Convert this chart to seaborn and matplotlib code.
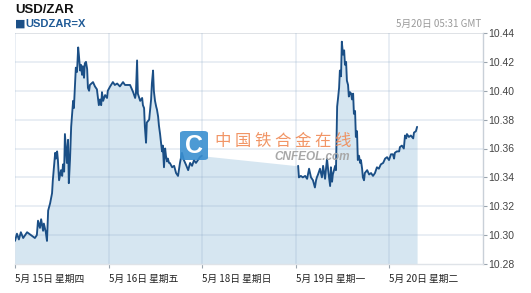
import numpy as np
import pandas as pd
import matplotlib
matplotlib.use("Agg")
import matplotlib.pyplot as plt
from matplotlib.patches import FancyBboxPatch
import seaborn as sns

# ---- data (hours since 5/15 00:00 on a compressed 5-trading-day axis) ----
day_labels = ["5月 15日 星期四", "5月 16日 星期五", "5月 18日 星期日", "5月 19日 星期一", "5月 20日 星期二"]
day_ticks = [0, 24, 48, 72, 96]
y_ticks = [10.28, 10.30, 10.32, 10.34, 10.36, 10.38, 10.40, 10.42, 10.44]

seg1_hours = [0.0, 0.5, 1.0, 1.5, 2.1, 2.6, 3.1, 3.6, 4.1, 4.6, 5.1, 5.6, 5.9, 6.4, 6.7, 7.2, 7.4, 7.9, 8.2, 8.5,
              9.0, 9.5, 9.7, 10.3, 10.5, 10.8, 11.0, 11.3, 11.8, 12.1, 12.3, 12.6, 12.8, 13.3, 13.6, 13.8, 14.1,
              14.4, 14.9, 15.1, 15.4, 15.6, 15.9, 16.2, 16.4, 16.7, 16.9, 17.2, 17.4, 17.7, 17.9, 18.2, 18.5,
              18.7, 19.0, 19.2, 20.0, 20.5, 21.0, 21.5, 21.8, 22.1, 22.3, 22.6, 23.1, 23.6, 23.8, 24.4, 25.1,
              25.6, 26.2, 26.9, 27.7, 28.2, 29.0, 29.5, 30.3, 30.8, 31.0, 31.3, 31.5, 32.1, 32.6, 32.8, 33.1,
              33.3, 33.6, 33.8, 34.1, 34.4, 34.9, 35.1, 35.4, 35.6, 35.9, 36.2, 36.4, 36.7, 36.9, 37.2, 37.4,
              37.7, 37.9, 38.2, 38.5, 38.7, 39.0, 39.2, 39.5, 39.7, 40.3, 40.8, 41.3, 41.8, 42.3, 42.8, 43.3,
              43.8, 44.4, 44.9, 45.4, 45.9, 46.4, 46.9, 47.4, 47.9]
seg1_rate = [10.296, 10.301, 10.297, 10.302, 10.298, 10.300, 10.302, 10.301, 10.300, 10.299, 10.298, 10.300,
             10.310, 10.305, 10.311, 10.303, 10.308, 10.302, 10.296, 10.317, 10.322, 10.329, 10.338, 10.357,
             10.353, 10.358, 10.352, 10.338, 10.345, 10.341, 10.349, 10.344, 10.370, 10.350, 10.366, 10.336,
             10.352, 10.375, 10.393, 10.388, 10.405, 10.416, 10.413, 10.430, 10.424, 10.414, 10.418, 10.411,
             10.417, 10.409, 10.419, 10.420, 10.415, 10.402, 10.400, 10.404, 10.406, 10.403, 10.401, 10.390,
             10.394, 10.390, 10.399, 10.393, 10.397, 10.395, 10.400, 10.403, 10.406, 10.404, 10.405, 10.403,
             10.406, 10.404, 10.404, 10.404, 10.399, 10.395, 10.398, 10.421, 10.398, 10.393, 10.395, 10.390,
             10.388, 10.375, 10.364, 10.378, 10.379, 10.380, 10.394, 10.405, 10.414, 10.400, 10.393, 10.389,
             10.387, 10.382, 10.376, 10.370, 10.365, 10.358, 10.362, 10.347, 10.360, 10.355, 10.351, 10.353,
             10.350, 10.350, 10.347, 10.348, 10.343, 10.341, 10.350, 10.357, 10.352, 10.349, 10.345, 10.350,
             10.348, 10.352, 10.350, 10.352, 10.354, 10.355]

seg2_hours = [72.6, 72.8, 73.3, 73.8, 74.4, 74.9, 75.4, 75.9, 76.4, 76.9, 77.2, 77.4, 77.7, 78.2, 78.7, 79.0,
              79.5, 80.0, 80.3, 80.8, 81.0, 81.3, 81.5, 82.1, 82.3, 82.6, 82.8, 83.1, 83.3, 83.6, 83.8, 84.1,
              84.4, 84.6, 84.9, 85.1, 85.4, 85.6, 85.9, 86.2, 86.4, 86.7, 86.9, 87.2, 87.4, 87.7, 87.9, 88.2,
              88.5, 88.7, 89.0, 89.2, 89.5, 89.7, 90.3, 90.8, 91.3, 91.8, 92.3, 92.8, 93.3, 93.8, 94.4, 94.9,
              95.4, 95.9, 96.4, 96.9, 97.2, 97.4, 97.9, 98.5, 98.7, 99.2, 99.7, 100.0, 100.3, 100.5, 101.0,
              101.5, 102.1, 102.3, 102.8, 103.1]
seg2_rate = [10.348, 10.340, 10.341, 10.340, 10.341, 10.339, 10.346, 10.340, 10.338, 10.333, 10.338, 10.340,
             10.342, 10.346, 10.340, 10.348, 10.339, 10.353, 10.345, 10.334, 10.347, 10.337, 10.342, 10.348,
             10.345, 10.389, 10.394, 10.402, 10.414, 10.410, 10.434, 10.425, 10.428, 10.418, 10.420, 10.407,
             10.404, 10.396, 10.399, 10.398, 10.394, 10.398, 10.384, 10.386, 10.368, 10.372, 10.352, 10.355,
             10.350, 10.352, 10.346, 10.340, 10.338, 10.343, 10.345, 10.342, 10.343, 10.341, 10.343, 10.347,
             10.346, 10.349, 10.350, 10.353, 10.354, 10.352, 10.356, 10.356, 10.353, 10.357, 10.358, 10.358,
             10.361, 10.362, 10.360, 10.369, 10.367, 10.370, 10.368, 10.369, 10.367, 10.371, 10.372, 10.375]

df = pd.DataFrame({
    "hour": seg1_hours + seg2_hours,
    "rate": seg1_rate + seg2_rate,
    "seg": ["a"] * len(seg1_hours) + ["b"] * len(seg2_hours),
})

# ---- figure ----
sns.set_theme(style="white")
plt.rcParams["font.family"] = ["Liberation Sans", "Noto Sans CJK SC", "DejaVu Sans"]

W, H = 531, 293
fig = plt.figure(figsize=(W / 100, H / 100), dpi=100)
fig.patch.set_facecolor("white")
ax = fig.add_axes([15 / W, 1 - 264 / H, (483 - 15) / W, (264 - 33) / H])
ax.set_facecolor("white")

line_c = "#1b4f86"
fill_c = "#d6e6f1"
grid_rgba = (0.55, 0.66, 0.78, 0.22)

ax.fill_between(df["hour"], df["rate"], 10.28, color=fill_c, lw=0, zorder=1)
sns.lineplot(data=df, x="hour", y="rate", units="seg", estimator=None, color=line_c,
             lw=1.35, ax=ax, zorder=3, legend=False)

ax.set_xlim(0, 120)
ax.set_ylim(10.28, 10.44)
ax.set_yticks(y_ticks)
ax.set_yticklabels([f"{v:.2f}" for v in y_ticks])
ax.yaxis.tick_right()
ax.set_xticks(day_ticks)
ax.set_xticklabels(day_labels)
ax.set_xlabel("")
ax.set_ylabel("")

for v in y_ticks[1:-1]:
    ax.axhline(v, color=grid_rgba, lw=1.2, zorder=1.5)
ax.axhline(10.44, color="#dcdfe4", lw=1.3, zorder=1.5)
for t in day_ticks:
    ax.axvline(t, color=grid_rgba, lw=1.2, zorder=1.5)

for s in ["top", "left"]:
    ax.spines[s].set_visible(False)
ax.spines["right"].set_color("#c9d0d8")
ax.spines["right"].set_linewidth(1)
ax.spines["bottom"].set_color("#dfe3e8")
ax.spines["bottom"].set_linewidth(1)

ax.tick_params(axis="y", which="both", right=True, left=False, length=3, width=0.8,
               color="#9aa4ae", labelsize=7.5, labelcolor="#444444", pad=1)
ax.tick_params(axis="x", bottom=True, length=3, width=0.8, color="#9aa4ae",
               labelsize=7, labelcolor="#222222", pad=4)
for lbl in ax.get_xticklabels():
    lbl.set_horizontalalignment("left")
    lbl.set_fontfamily(["Noto Sans CJK SC", "DejaVu Sans"])

# ---- header texts ----
fig.text(15 / W, 1 - 10 / H, "USD/ZAR", fontsize=9.5, fontweight="bold", color="#111111",
         va="center", ha="left")
fig.text(15 / W, 1 - 24 / H, "\u25A0", fontsize=8, color="#1b4f86", va="center", ha="left",
         family="DejaVu Sans")
fig.text(25 / W, 1 - 24 / H, "USDZAR=X", fontsize=8, fontweight="bold", color="#1f5a96",
         va="center", ha="left")
fig.text(481 / W, 1 - 24 / H, "5月20日 05:31 GMT", fontsize=7, color="#9a9a9a",
         va="center", ha="right", family=["Noto Sans CJK SC", "DejaVu Sans"])

# ---- watermark ----
icon = FancyBboxPatch((180 / W, 1 - 160 / H), 28 / W, 29 / H,
                      boxstyle="round,pad=0,rounding_size=0.008", transform=fig.transFigure,
                      facecolor="#3a8fd0", edgecolor="none", alpha=0.9, zorder=5)
fig.patches.append(icon)
fig.text(194 / W, 1 - 146 / H, "C", fontsize=18, fontweight="bold", color="white",
         ha="center", va="center", zorder=6)
fig.text(215 / W, 1 - 141 / H, "中 国 铁 合 金 在 线", fontsize=11.8, color="#f08a55", alpha=0.9,
         ha="left", va="center", family=["Noto Sans CJK SC", "DejaVu Sans"], zorder=6)
fig.text(274 / W, 1 - 157 / H, "CNFEOL.com", fontsize=8.5, color="#a8a8a8", style="italic",
         fontweight="bold", ha="left", va="center", zorder=6)

fig.savefig("out.png", dpi=100, facecolor="white")
